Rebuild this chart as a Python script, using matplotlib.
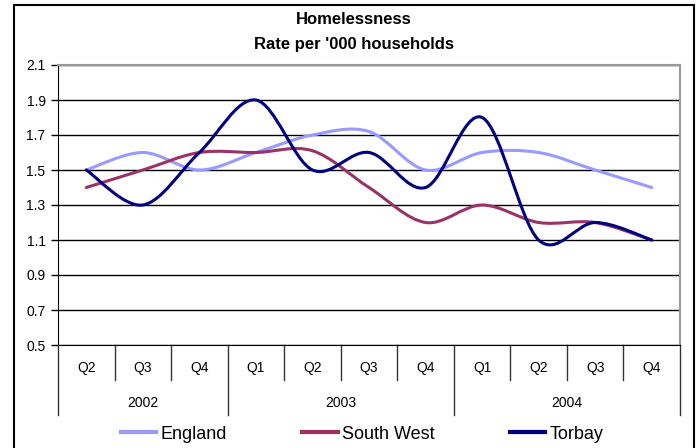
import matplotlib
matplotlib.use("Agg")
import matplotlib.pyplot as plt
import numpy as np
from matplotlib.path import Path
from matplotlib.patches import PathPatch, Rectangle
from matplotlib.lines import Line2D
import matplotlib.transforms as mtransforms

plt.rcParams["font.family"] = ["Liberation Sans", "DejaVu Sans"]

quarters = ["Q2", "Q3", "Q4", "Q1", "Q2", "Q3", "Q4", "Q1", "Q2", "Q3", "Q4"]
years = ["2002", "2003", "2004"]
year_counts = [3, 4, 4]
england = [1.5, 1.6, 1.5, 1.6, 1.7, 1.72, 1.5, 1.6, 1.6, 1.5, 1.4]
south_west = [1.4, 1.5, 1.6, 1.6, 1.61, 1.4, 1.2, 1.3, 1.2, 1.2, 1.1]
torbay = [1.5, 1.3, 1.6, 1.9, 1.5, 1.6, 1.4, 1.8, 1.1, 1.2, 1.1]

series = [("England", england, "#9999ff"),
          ("South West", south_west, "#993366"),
          ("Torbay", torbay, "#000080")]


def smooth_path(xs, ys):
    """Excel-style smoothed line as cubic bezier segments"""
    pts = np.column_stack([xs, ys]).astype(float)
    n = len(pts)
    verts = [pts[0]]
    codes = [Path.MOVETO]
    for i in range(n - 1):
        p_prev = pts[i - 1] if i > 0 else pts[i]
        p_next = pts[i + 2] if i + 2 < n else pts[i + 1]
        c1 = pts[i] + (pts[i + 1] - p_prev) / 6
        c2 = pts[i + 1] - (p_next - pts[i]) / 6
        verts += [c1, c2, pts[i + 1]]
        codes += [Path.CURVE4] * 3
    return Path(verts, codes)


fig = plt.figure(figsize=(6.98, 4.48), dpi=100)
ax = fig.add_axes([58 / 698, 1 - 345 / 448, (680 - 58) / 698, 280 / 448])

x = np.arange(len(quarters))
for name, vals, col in series:
    ax.add_patch(PathPatch(smooth_path(x, vals), fill=False, edgecolor=col,
                           lw=2.2, capstyle="round", joinstyle="round", zorder=3))

ax.set_xlim(-0.5, len(quarters) - 0.5)
ax.set_ylim(0.5, 2.1)
yt = np.round(np.arange(0.5, 2.11, 0.2), 1)
ax.set_yticks(yt)
ax.set_yticklabels([f"{v:.1f}" for v in yt], fontsize=10)
ax.tick_params(axis="y", length=5, width=1, color="black", pad=4)
ax.set_xticks([])
ax.grid(axis="y", color="black", lw=1)
ax.set_axisbelow(True)
for s in ["top", "right"]:
    ax.spines[s].set_color("#999999")
    ax.spines[s].set_linewidth(1.5)
ax.spines["left"].set_color("black")
ax.spines["bottom"].set_color("black")

# category axis: quarter and year labels with separators
trans = mtransforms.blended_transform_factory(ax.transData, ax.transAxes)
for i, q in enumerate(quarters):
    ax.text(i, -0.082, q, transform=trans, ha="center", va="center", fontsize=10)
year_edges = np.concatenate([[0], np.cumsum(year_counts)]) - 0.5
for b in np.arange(len(quarters) + 1) - 0.5:
    bottom = -0.25 if b in year_edges else -0.125
    ax.plot([b, b], [0, bottom], transform=trans, color="#333333", lw=1,
            clip_on=False)
for k, yr in enumerate(years):
    mid = (year_edges[k] + year_edges[k + 1]) / 2
    ax.text(mid, -0.207, yr, transform=trans, ha="center", va="center", fontsize=10)

fig.text(354 / 698, 1 - 20 / 448, "Homelessness", ha="center", va="center",
         fontsize=12, fontweight="bold")
fig.text(354 / 698, 1 - 44 / 448, "Rate per '000 households", ha="center",
         va="center", fontsize=12, fontweight="bold")

handles = [Line2D([], [], color=c, lw=3) for _, _, c in series]
fig.legend(handles, [n for n, _, _ in series], loc="center",
           bbox_to_anchor=(362 / 698, 1 - 434 / 448), ncol=3, frameon=False,
           fontsize=13, handlelength=1.95, handletextpad=0.22, columnspacing=4.2,
           borderpad=0, borderaxespad=0)

fig.patches.append(Rectangle((14 / 698, -0.1), (694 - 14) / 698, 1.1 - 5 / 448,
                             transform=fig.transFigure, fill=False,
                             edgecolor="black", lw=1.5))

fig.savefig("out.png", dpi=100)
